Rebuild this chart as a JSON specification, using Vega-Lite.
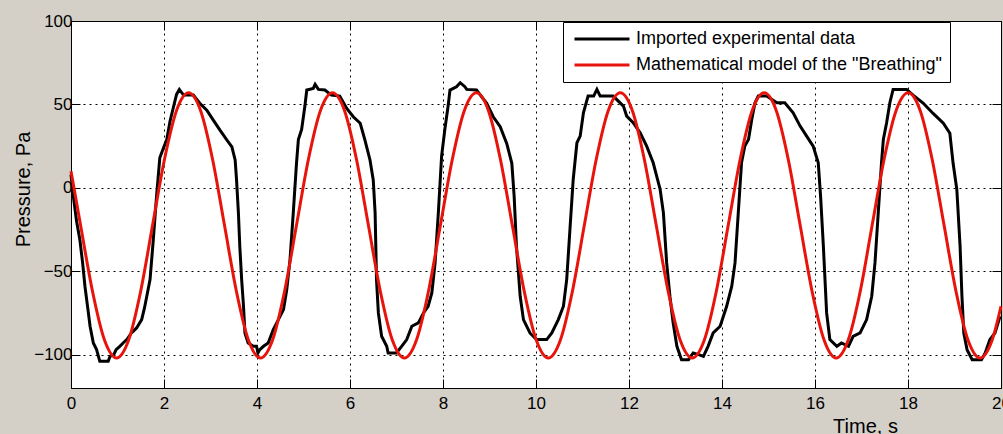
{
  "$schema": "https://vega.github.io/schema/vega-lite/v6.json",
  "width": 930,
  "height": 367,
  "autosize": {"type": "none"},
  "padding": {"left": 71, "top": 21, "right": 2, "bottom": 46},
  "background": "#d4d0c8",
  "config": {
    "view": {"stroke": null, "fill": "#ffffff"},
    "font": "Liberation Sans",
    "axis": {
      "labelFont": "Liberation Sans",
      "labelFontSize": 17,
      "labelColor": "#000000",
      "titleFont": "Liberation Sans",
      "titleFontSize": 20,
      "titleFontWeight": "normal",
      "titleColor": "#000000",
      "domainColor": "#000000",
      "domainWidth": 1,
      "tickColor": "#000000",
      "tickWidth": 1,
      "tickSize": -9,
      "labelFlush": false,
      "labelOverlap": false,
      "gridColor": "#000000",
      "gridOpacity": 1,
      "gridWidth": 1,
      "gridDash": [2, 4]
    }
  },
  "datasets": {
    "experimental": [
      {"t": 0.00, "p": 8}, {"t": 0.05, "p": -5}, {"t": 0.12, "p": -20}, {"t": 0.19, "p": -31},
      {"t": 0.25, "p": -45}, {"t": 0.30, "p": -59}, {"t": 0.36, "p": -72}, {"t": 0.41, "p": -83},
      {"t": 0.48, "p": -93}, {"t": 0.55, "p": -97}, {"t": 0.59, "p": -101}, {"t": 0.62, "p": -104},
      {"t": 0.80, "p": -104}, {"t": 0.84, "p": -101}, {"t": 0.92, "p": -100}, {"t": 0.97, "p": -97},
      {"t": 1.05, "p": -95}, {"t": 1.12, "p": -93}, {"t": 1.20, "p": -91}, {"t": 1.30, "p": -87},
      {"t": 1.41, "p": -84}, {"t": 1.52, "p": -79}, {"t": 1.58, "p": -72}, {"t": 1.63, "p": -65},
      {"t": 1.70, "p": -55}, {"t": 1.77, "p": -31}, {"t": 1.84, "p": -5}, {"t": 1.91, "p": 18},
      {"t": 1.99, "p": 24}, {"t": 2.06, "p": 29}, {"t": 2.13, "p": 40}, {"t": 2.20, "p": 48},
      {"t": 2.27, "p": 56}, {"t": 2.33, "p": 59}, {"t": 2.42, "p": 55.6}, {"t": 2.63, "p": 55.6},
      {"t": 2.77, "p": 50.7}, {"t": 2.92, "p": 46.6}, {"t": 3.06, "p": 40.6}, {"t": 3.20, "p": 34.7},
      {"t": 3.35, "p": 28.7}, {"t": 3.46, "p": 24.6}, {"t": 3.53, "p": 16.7}, {"t": 3.56, "p": 4.7},
      {"t": 3.60, "p": -15}, {"t": 3.63, "p": -35}, {"t": 3.67, "p": -55}, {"t": 3.71, "p": -71},
      {"t": 3.74, "p": -87}, {"t": 3.81, "p": -93}, {"t": 3.92, "p": -95}, {"t": 3.99, "p": -95},
      {"t": 4.02, "p": -99}, {"t": 4.06, "p": -97}, {"t": 4.14, "p": -95}, {"t": 4.24, "p": -93},
      {"t": 4.35, "p": -85}, {"t": 4.46, "p": -79}, {"t": 4.57, "p": -73}, {"t": 4.64, "p": -61},
      {"t": 4.71, "p": -43}, {"t": 4.78, "p": -15}, {"t": 4.85, "p": 15}, {"t": 4.89, "p": 29},
      {"t": 4.96, "p": 35}, {"t": 5.03, "p": 49}, {"t": 5.07, "p": 58.6}, {"t": 5.21, "p": 59.6},
      {"t": 5.25, "p": 62}, {"t": 5.32, "p": 59}, {"t": 5.46, "p": 58.6}, {"t": 5.60, "p": 55.6},
      {"t": 5.78, "p": 55}, {"t": 5.93, "p": 47.6}, {"t": 6.07, "p": 42.6}, {"t": 6.22, "p": 38.7},
      {"t": 6.32, "p": 28.7}, {"t": 6.43, "p": 16.7}, {"t": 6.50, "p": 4.7}, {"t": 6.54, "p": -15},
      {"t": 6.57, "p": -55}, {"t": 6.61, "p": -75}, {"t": 6.68, "p": -89}, {"t": 6.79, "p": -95},
      {"t": 6.82, "p": -99}, {"t": 7.00, "p": -99}, {"t": 7.11, "p": -95}, {"t": 7.22, "p": -91},
      {"t": 7.33, "p": -83}, {"t": 7.47, "p": -81}, {"t": 7.58, "p": -75}, {"t": 7.68, "p": -71},
      {"t": 7.76, "p": -63}, {"t": 7.83, "p": -45}, {"t": 7.90, "p": -15}, {"t": 7.97, "p": 19},
      {"t": 8.04, "p": 35}, {"t": 8.11, "p": 49}, {"t": 8.15, "p": 58.6}, {"t": 8.29, "p": 60.6},
      {"t": 8.37, "p": 63}, {"t": 8.47, "p": 60.6}, {"t": 8.51, "p": 59}, {"t": 8.72, "p": 58.6},
      {"t": 8.94, "p": 50.7}, {"t": 9.08, "p": 42.6}, {"t": 9.23, "p": 36.6}, {"t": 9.37, "p": 26.6},
      {"t": 9.48, "p": 14.7}, {"t": 9.53, "p": -5}, {"t": 9.58, "p": -35}, {"t": 9.66, "p": -65},
      {"t": 9.73, "p": -79}, {"t": 9.87, "p": -87}, {"t": 10.01, "p": -91}, {"t": 10.23, "p": -91},
      {"t": 10.34, "p": -87}, {"t": 10.48, "p": -79}, {"t": 10.59, "p": -71}, {"t": 10.66, "p": -55},
      {"t": 10.73, "p": -25}, {"t": 10.80, "p": 5}, {"t": 10.88, "p": 27}, {"t": 10.95, "p": 31},
      {"t": 11.02, "p": 45}, {"t": 11.12, "p": 55}, {"t": 11.24, "p": 55}, {"t": 11.31, "p": 59},
      {"t": 11.38, "p": 55}, {"t": 11.66, "p": 55}, {"t": 11.88, "p": 49}, {"t": 11.95, "p": 43},
      {"t": 12.09, "p": 39}, {"t": 12.24, "p": 33}, {"t": 12.38, "p": 25}, {"t": 12.52, "p": 15},
      {"t": 12.67, "p": -1}, {"t": 12.74, "p": -15}, {"t": 12.81, "p": -45}, {"t": 12.88, "p": -65},
      {"t": 12.95, "p": -81}, {"t": 13.03, "p": -95}, {"t": 13.13, "p": -103}, {"t": 13.28, "p": -103},
      {"t": 13.38, "p": -99}, {"t": 13.50, "p": -100}, {"t": 13.60, "p": -101}, {"t": 13.70, "p": -95},
      {"t": 13.81, "p": -87}, {"t": 13.96, "p": -83}, {"t": 14.10, "p": -71}, {"t": 14.21, "p": -59},
      {"t": 14.28, "p": -45}, {"t": 14.35, "p": -15}, {"t": 14.42, "p": 15}, {"t": 14.49, "p": 25},
      {"t": 14.57, "p": 29}, {"t": 14.64, "p": 41}, {"t": 14.71, "p": 51}, {"t": 14.78, "p": 55},
      {"t": 14.96, "p": 55}, {"t": 15.18, "p": 51}, {"t": 15.35, "p": 51}, {"t": 15.53, "p": 45},
      {"t": 15.68, "p": 37}, {"t": 15.82, "p": 31}, {"t": 15.96, "p": 25}, {"t": 16.07, "p": 15},
      {"t": 16.12, "p": -5}, {"t": 16.18, "p": -35}, {"t": 16.25, "p": -75}, {"t": 16.32, "p": -91},
      {"t": 16.47, "p": -95}, {"t": 16.57, "p": -93}, {"t": 16.72, "p": -95}, {"t": 16.82, "p": -89},
      {"t": 16.97, "p": -87}, {"t": 17.11, "p": -79}, {"t": 17.22, "p": -65}, {"t": 17.29, "p": -45},
      {"t": 17.36, "p": -15}, {"t": 17.43, "p": 15}, {"t": 17.47, "p": 29}, {"t": 17.54, "p": 39},
      {"t": 17.61, "p": 51}, {"t": 17.68, "p": 59}, {"t": 17.97, "p": 59}, {"t": 18.11, "p": 55.6},
      {"t": 18.33, "p": 50.7}, {"t": 18.54, "p": 44.6}, {"t": 18.76, "p": 38.7}, {"t": 18.90, "p": 32.7},
      {"t": 18.97, "p": 14.7}, {"t": 19.05, "p": -1}, {"t": 19.12, "p": -35}, {"t": 19.16, "p": -65},
      {"t": 19.20, "p": -87}, {"t": 19.27, "p": -97}, {"t": 19.38, "p": -103}, {"t": 19.58, "p": -103},
      {"t": 19.66, "p": -99}, {"t": 19.76, "p": -91}, {"t": 19.87, "p": -87}, {"t": 19.98, "p": -77}
    ],
    "model": [
      {"t": 0, "p": 9.9}, {"t": 0.206, "p": -22.5}, {"t": 0.464, "p": -62.3}, {"t": 0.722, "p": -91.4},
      {"t": 0.98, "p": -102}, {"t": 1.238, "p": -91.4}, {"t": 1.496, "p": -62.3}, {"t": 1.754, "p": -22.5},
      {"t": 2.012, "p": 17.3}, {"t": 2.27, "p": 46.4}, {"t": 2.528, "p": 57}, {"t": 2.786, "p": 46.4},
      {"t": 3.043, "p": 17.3}, {"t": 3.301, "p": -22.5}, {"t": 3.559, "p": -62.3}, {"t": 3.817, "p": -91.4},
      {"t": 4.075, "p": -102}, {"t": 4.333, "p": -91.4}, {"t": 4.591, "p": -62.3}, {"t": 4.849, "p": -22.5},
      {"t": 5.107, "p": 17.3}, {"t": 5.365, "p": 46.4}, {"t": 5.623, "p": 57}, {"t": 5.881, "p": 46.4},
      {"t": 6.138, "p": 17.3}, {"t": 6.396, "p": -22.5}, {"t": 6.654, "p": -62.3}, {"t": 6.912, "p": -91.4},
      {"t": 7.17, "p": -102}, {"t": 7.428, "p": -91.4}, {"t": 7.686, "p": -62.3}, {"t": 7.944, "p": -22.5},
      {"t": 8.202, "p": 17.3}, {"t": 8.46, "p": 46.4}, {"t": 8.718, "p": 57}, {"t": 8.976, "p": 46.4},
      {"t": 9.233, "p": 17.3}, {"t": 9.491, "p": -22.5}, {"t": 9.749, "p": -62.3}, {"t": 10.007, "p": -91.4},
      {"t": 10.265, "p": -102}, {"t": 10.523, "p": -91.4}, {"t": 10.781, "p": -62.3}, {"t": 11.039, "p": -22.5},
      {"t": 11.297, "p": 17.3}, {"t": 11.555, "p": 46.4}, {"t": 11.813, "p": 57}, {"t": 12.071, "p": 46.4},
      {"t": 12.328, "p": 17.3}, {"t": 12.586, "p": -22.5}, {"t": 12.844, "p": -62.3}, {"t": 13.102, "p": -91.4},
      {"t": 13.36, "p": -102}, {"t": 13.618, "p": -91.4}, {"t": 13.876, "p": -62.3}, {"t": 14.134, "p": -22.5},
      {"t": 14.392, "p": 17.3}, {"t": 14.65, "p": 46.4}, {"t": 14.908, "p": 57}, {"t": 15.166, "p": 46.4},
      {"t": 15.423, "p": 17.3}, {"t": 15.681, "p": -22.5}, {"t": 15.939, "p": -62.3}, {"t": 16.197, "p": -91.4},
      {"t": 16.455, "p": -102}, {"t": 16.713, "p": -91.4}, {"t": 16.971, "p": -62.3}, {"t": 17.229, "p": -22.5},
      {"t": 17.487, "p": 17.3}, {"t": 17.745, "p": 46.4}, {"t": 18.003, "p": 57}, {"t": 18.261, "p": 46.4},
      {"t": 18.518, "p": 17.3}, {"t": 18.776, "p": -22.5}, {"t": 19.034, "p": -62.3}, {"t": 19.292, "p": -91.4},
      {"t": 19.55, "p": -102}, {"t": 19.808, "p": -91.4}, {"t": 20, "p": -71}
    ]
  },
  "layer": [
    {
      "data": {"name": "experimental"},
      "mark": {"type": "line", "strokeWidth": 3, "strokeJoin": "miter"},
      "encoding": {
        "x": {
          "field": "t", "type": "quantitative",
          "scale": {"domain": [0, 20], "nice": false, "zero": false},
          "axis": {
            "orient": "bottom", "values": [0, 2, 4, 6, 8, 10, 12, 14, 16, 18, 20], "format": "d",
            "grid": true, "labelPadding": 16,
            "title": "Time, s", "titleX": 794, "titleY": 44, "titleAlign": "center", "titleBaseline": "alphabetic", "titleAngle": 0
          }
        },
        "y": {
          "field": "p", "type": "quantitative",
          "scale": {"domain": [-120, 100], "nice": false, "zero": false},
          "axis": {
            "orient": "left", "values": [-100, -50, 0, 50, 100], "format": "d",
            "grid": true, "labelPadding": 8,
            "title": "Pressure, Pa", "titleX": -42, "titleY": 168, "titleAlign": "center", "titleBaseline": "alphabetic", "titleAngle": 270
          }
        },
        "color": {
          "datum": "Imported experimental data", "type": "nominal",
          "scale": {"domain": ["Imported experimental data", "Mathematical model of the \"Breathing\""], "range": ["#000000", "#e8140c"]},
          "legend": {
            "title": null, "orient": "none", "legendX": 492, "legendY": 1,
            "fillColor": "#ffffff", "strokeColor": "#000000", "padding": 8, "rowPadding": 8,
            "symbolType": "M-5,0H5", "symbolSize": 121, "symbolStrokeWidth": 3, "symbolOffset": 22,
            "labelOffset": 69, "labelFont": "Liberation Sans", "labelFontSize": 18, "labelColor": "#000000", "labelLimit": 0,
            "encode": {"labels": {"update": {"dx": {"value": -44}}}}
          }
        }
      }
    },
    {
      "data": {"name": "model"},
      "mark": {"type": "line", "strokeWidth": 3, "interpolate": "monotone"},
      "encoding": {
        "x": {
          "field": "t", "type": "quantitative",
          "scale": {"domain": [0, 20], "nice": false, "zero": false},
          "axis": {"orient": "top", "values": [0, 2, 4, 6, 8, 10, 12, 14, 16, 18, 20], "labels": false, "grid": false, "title": null}
        },
        "y": {
          "field": "p", "type": "quantitative",
          "scale": {"domain": [-120, 100], "nice": false, "zero": false},
          "axis": {"orient": "right", "values": [-100, -50, 0, 50, 100], "labels": false, "grid": false, "title": null}
        },
        "color": {
          "datum": "Mathematical model of the \"Breathing\"", "type": "nominal"
        }
      }
    }
  ],
  "resolve": {"axis": {"x": "independent", "y": "independent"}}
}
